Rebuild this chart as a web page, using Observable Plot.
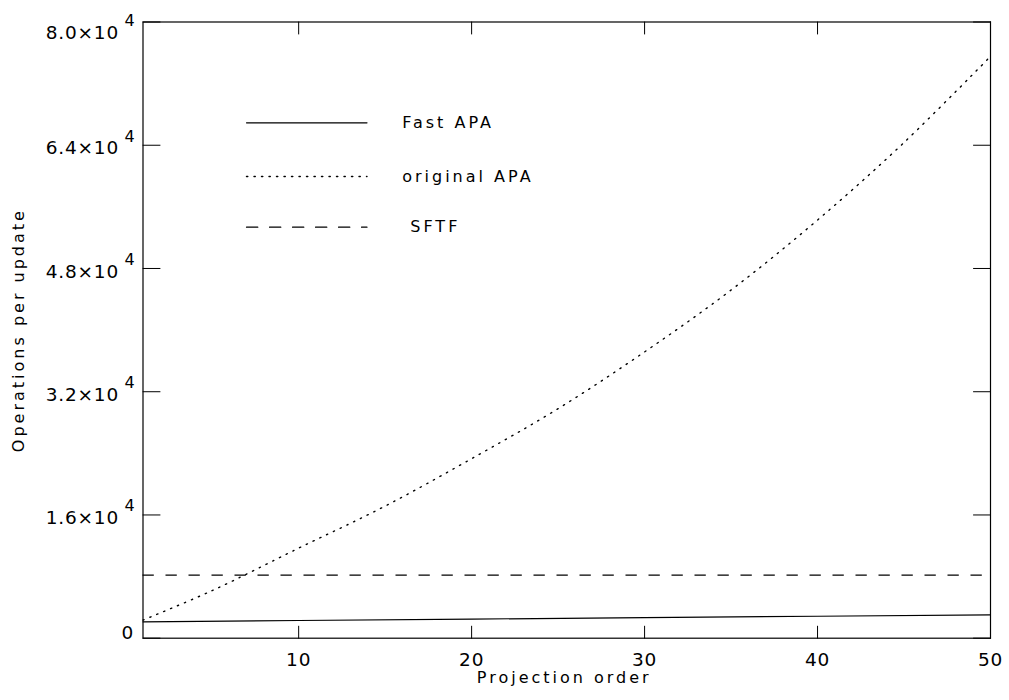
<!DOCTYPE html>
<html><head><meta charset="utf-8">
<script src="https://cdn.jsdelivr.net/npm/d3@7"></script>
<script src="https://cdn.jsdelivr.net/npm/@observablehq/plot@0.6"></script>
<style>
body{margin:0;background:#fff}
svg{font-family:"DejaVu Sans",sans-serif}
</style>
</head><body><div id="chart"></div>
<script>
// ---- data ----
const orders = [1, 5, 10, 15, 20, 25, 30, 35, 40, 45, 50];
const originalAPA = [2350, 6180, 11690, 17150, 23310, 29800, 37170, 45200, 54290, 64350, 75540];
const fastOrders = [1, 10, 20, 30, 40, 50];
const fastAPA = [2130, 2300, 2480, 2670, 2850, 3040];
const sftfValue = 8192;
const xTicks = [10, 20, 30, 40, 50];
const yTicks = [0, 16000, 32000, 48000, 64000, 80000];
const yTickMantissa = ["0", "1.6", "3.2", "4.8", "6.4", "8.0"];
const yTickExponent = "4";
const seriesNames = ["Fast APA", "original APA", "\u00A0SFTF"];
const xLabel = "Projection order";
const yLabel = "Operations per update";

// ---- tables built from the arrays ----
const origData = orders.map((n, i) => ({n, v: originalAPA[i]}));
const fastData = fastOrders.map((n, i) => ({n, v: fastAPA[i]}));
const yLab = yTicks.map((v, i) => ({v, m: yTickMantissa[i]}));
const yMid = yLab.filter((d, i) => i > 0 && i < yLab.length - 1);
const yTop = yLab.filter((d, i) => i === yLab.length - 1);
const yBot = yLab.filter((d, i) => i === 0);

const lineShape = {draw(ctx, l) { ctx.moveTo(0, 0); ctx.lineTo(0, -l); }};
const xMin = 1, xMax = 50, yMin = 0, yMax = 80000;

const dashStyles = [null, "1.3,6.2", "11.3,11.7"];
const legendDy = [100.8, 154.5, 205.2];
const legendTextDx = [259.2, 259.2, 259.2];

const marks = [
  Plot.frame({stroke: "black", strokeWidth: 1.2}),
  // ticks (inward, mirrored on all sides)
  Plot.vector(yTicks, {x: () => xMin, y: d => d, length: 17, rotate: 90, anchor: "start", shape: lineShape, stroke: "black", strokeWidth: 1}),
  Plot.vector(yTicks, {x: () => xMax, y: d => d, length: 17, rotate: -90, anchor: "start", shape: lineShape, stroke: "black", strokeWidth: 1}),
  Plot.vector(xTicks, {x: d => d, y: () => yMin, length: 12, rotate: 0, anchor: "start", shape: lineShape, stroke: "black", strokeWidth: 1}),
  Plot.vector(xTicks, {x: d => d, y: () => yMax, length: 12, rotate: 180, anchor: "start", shape: lineShape, stroke: "black", strokeWidth: 1}),
  // y tick labels
  Plot.text(yMid, {y: "v", frameAnchor: "left", text: d => d.m + "×10", textAnchor: "end", lineAnchor: "middle", dx: -24, dy: 3.2, fontSize: 18.5, fill: "black"}),
  Plot.text(yMid, {y: "v", frameAnchor: "left", text: () => yTickExponent, textAnchor: "start", lineAnchor: "middle", dx: -18.5, dy: -8.6, fontSize: 16, fill: "black"}),
  Plot.text(yTop, {y: "v", frameAnchor: "left", text: d => d.m + "×10", textAnchor: "end", lineAnchor: "middle", dx: -24, dy: 10.7, fontSize: 18.5, fill: "black"}),
  Plot.text(yTop, {y: "v", frameAnchor: "left", text: () => yTickExponent, textAnchor: "start", lineAnchor: "middle", dx: -18.5, dy: -1.4, fontSize: 16, fill: "black"}),
  Plot.text(yBot, {y: "v", frameAnchor: "left", text: "m", textAnchor: "end", lineAnchor: "middle", dx: -9, dy: -5.3, fontSize: 18.5, fill: "black"}),
  // x tick labels
  Plot.text(xTicks, {x: d => d, frameAnchor: "bottom", text: d => String(d), textAnchor: "middle", lineAnchor: "middle", dy: 21.5, fontSize: 18.5, fill: "black"}),
  // axis titles
  Plot.text([xLabel], {frameAnchor: "bottom", text: d => d, textAnchor: "middle", lineAnchor: "middle", dy: 39.9, dx: -2.5, fontSize: 16, fill: "black"}),
  Plot.text([yLabel], {frameAnchor: "left", text: d => d, rotate: -90, textAnchor: "middle", lineAnchor: "middle", dx: -124.3, dy: 0, fontSize: 16, fill: "black"}),
  // series
  Plot.ruleY([sftfValue], {stroke: "black", strokeWidth: 1.2, strokeDasharray: dashStyles[2]}),
  Plot.line(origData, {x: "n", y: "v", curve: "catmull-rom", stroke: "black", strokeWidth: 1.4, strokeDasharray: dashStyles[1]}),
  Plot.line(fastData, {x: "n", y: "v", stroke: "black", strokeWidth: 1.2})
];

// legend
seriesNames.forEach((name, i) => {
  marks.push(Plot.vector([name], {frameAnchor: "top-left", dx: 103.5, dy: legendDy[i], length: 120.5, rotate: 90, anchor: "start", shape: lineShape, stroke: "black", strokeWidth: i === 1 ? 1.4 : 1.2, strokeDasharray: dashStyles[i]}));
  marks.push(Plot.text([name], {frameAnchor: "top-left", text: d => d, textAnchor: "start", lineAnchor: "middle", dx: legendTextDx[i], dy: legendDy[i], fontSize: 16, fill: "black"}));
});

const chart = Plot.plot({
  width: 1009, height: 700,
  marginLeft: 142.5, marginRight: 19, marginTop: 21.5, marginBottom: 62.3,
  x: {domain: [xMin, xMax], axis: null},
  y: {domain: [yMin, yMax], axis: null},
  style: {fontFamily: "DejaVu Sans, sans-serif", letterSpacing: "3px", background: "white", color: "black"},
  marks
});
chart.querySelectorAll('g[font-size="18.5"]').forEach(g => g.setAttribute("letter-spacing", "0.8"));
document.getElementById("chart").appendChild(chart);
</script>
</body></html>
